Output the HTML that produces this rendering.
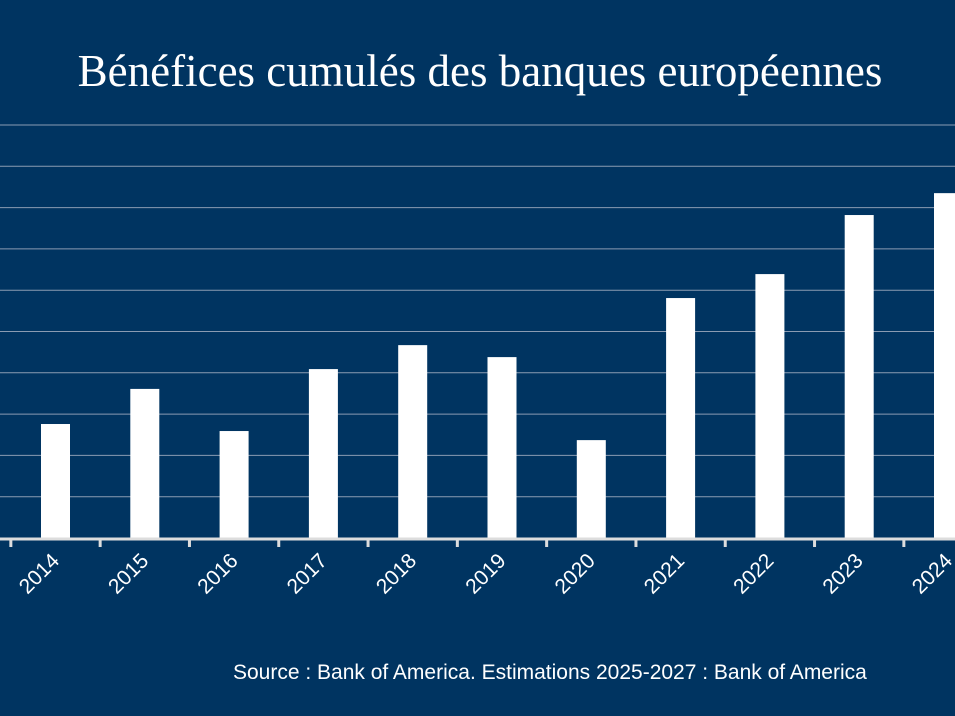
<!DOCTYPE html>
<html><head><meta charset="utf-8"><style>
html,body{margin:0;padding:0;background:#003461;}
svg{display:block}
</style></head><body>
<svg width="955" height="716" viewBox="0 0 955 716">
<rect x="0" y="0" width="955" height="716" fill="#003461"/>
<text x="480" y="86" text-anchor="middle" fill="#fff" font-family="Liberation Serif, serif" font-size="45">Bénéfices cumulés des banques européennes</text>
<g id="grid"></g><g id="bars"></g><g id="axis"></g>
<text x="233" y="679" fill="#fff" font-family="Liberation Sans, sans-serif" font-size="21">Source : Bank of America. Estimations 2025-2027 : Bank of America</text>
</svg>
<script>
const categories=["2014","2015","2016","2017","2018","2019","2020","2021","2022","2023","2024"];
const values=[27.6,36.1,25.9,40.9,46.7,43.8,23.7,58.1,63.9,78.2,83.5];
const gridTicks=[10,20,30,40,50,60,70,80,90,100];
const NS="http://www.w3.org/2000/svg";
const baseY=538, unit=4.13, x0=55.5, step=89.3, bw=29;
const y=v=>baseY-v*unit, x=i=>x0+i*step;
const grid=document.getElementById('grid'),bars=document.getElementById('bars'),axis=document.getElementById('axis');
gridTicks.forEach(t=>{
  const l=document.createElementNS(NS,'line');
  l.setAttribute('x1',0);l.setAttribute('x2',955);l.setAttribute('y1',y(t));l.setAttribute('y2',y(t));
  l.setAttribute('stroke','#8a9bb2');l.setAttribute('stroke-width','1');
  
  
  grid.appendChild(l);
});
categories.forEach((c,i)=>{
  const r=document.createElementNS(NS,'rect');
  r.setAttribute('x',x(i)-bw/2);r.setAttribute('width',bw);r.setAttribute('y',y(values[i]));r.setAttribute('height',baseY-y(values[i]));
  r.setAttribute('fill','#fff');
  
  
  bars.appendChild(r);
  const tk=document.createElementNS(NS,'line');
  const tx=x(i)-step/2;
  tk.setAttribute('x1',tx);tk.setAttribute('x2',tx);tk.setAttribute('y1',baseY);tk.setAttribute('y2',baseY+9);
  tk.setAttribute('stroke','#ddd');tk.setAttribute('stroke-width','3');
  
  
  axis.appendChild(tk);
  const t=document.createElementNS(NS,'text');
  const lx=x(i)+5, ly=562;
  t.setAttribute('x',lx);t.setAttribute('y',ly);
  t.setAttribute('text-anchor','end');
  t.setAttribute('transform','rotate(-45 '+lx+' '+ly+')');
  t.setAttribute('fill','#fff');t.setAttribute('font-family','Liberation Sans, sans-serif');t.setAttribute('font-size','21');
  t.textContent=c;
  
  
  axis.appendChild(t);
});
const b=document.createElementNS(NS,'line');
b.setAttribute('x1',0);b.setAttribute('x2',955);b.setAttribute('y1',baseY+1);b.setAttribute('y2',baseY+1);
b.setAttribute('stroke','#ddd');b.setAttribute('stroke-width','3');


axis.appendChild(b);
</script>
</body></html>
